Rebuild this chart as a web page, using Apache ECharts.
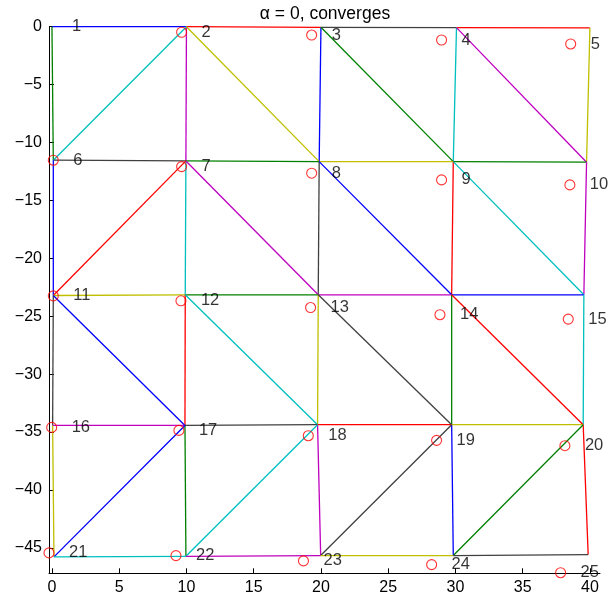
<!DOCTYPE html>
<html>
<head>
<meta charset="utf-8">
<script src="https://cdn.jsdelivr.net/npm/echarts@6/dist/echarts.min.js"></script>
<style>
  html, body { margin: 0; padding: 0; background: #fff; }
  #chart { width: 608px; height: 598px; }
</style>
</head>
<body>
<div id="chart"></div>
<script>
// ---- data ----
const titleText = 'α = 0, converges';
const xTicks = [0, 5, 10, 15, 20, 25, 30, 35, 40];
const yTicks = [0, -5, -10, -15, -20, -25, -30, -35, -40, -45];
const xRange = [-0.22, 40.75];
const yRange = [-47.2, 0];

// mesh node positions (deformed mesh)
const nodeX = [0, 10, 20, 30.08, 40.0,
               0.1, 9.96, 19.87, 29.84, 39.75,
               0.1, 9.91, 19.8, 29.72, 39.55,
               0.05, 9.89, 19.75, 29.72, 39.5,
               0.15, 9.96, 19.98, 29.84, 39.87];
const nodeY = [0, 0, -0.05, -0.08, -0.1,
               -11.53, -11.59, -11.65, -11.65, -11.7,
               -23.21, -23.15, -23.15, -23.15, -23.15,
               -34.43, -34.43, -34.37, -34.37, -34.37,
               -45.78, -45.73, -45.67, -45.67, -45.58];

// red circle positions (node 1's circle lies just outside the axes)
const circleX = [0, 9.64, 19.31, 28.97, 38.57,
                 0.1, 9.64, 19.31, 28.97, 38.51,
                 0.1, 9.59, 19.23, 28.85, 38.39,
                 -0.02, 9.44, 19.06, 28.6, 38.14,
                 -0.22, 9.22, 18.7, 28.23, 37.82];
const circleY = [0.05, -0.48, -0.72, -1.15, -1.49,
                 -11.53, -12.08, -12.65, -13.23, -13.66,
                 -23.24, -23.67, -24.25, -24.87, -25.25,
                 -34.6, -34.86, -35.32, -35.72, -36.18,
                 -45.44, -45.67, -46.13, -46.45, -47.15];
const nodeLabels = ['1','2','3','4','5','6','7','8','9','10','11','12','13',
                    '14','15','16','17','18','19','20','21','22','23','24','25'];

// mesh edges (1-based node numbers) and their MATLAB colour letters
const edgeFrom = [1,2,3,4, 1,2,3,4,5, 2,2,3,4,
                  6,7,8,9, 6,7,8,9,10, 7,7,8,9,
                  11,12,13,14, 11,12,13,14,15, 11,12,13,14,
                  16,17,18,19, 16,17,18,19,20, 17,18,19,20,
                  21,22,23,24];
const edgeTo   = [2,3,4,5, 6,7,8,9,10, 6,8,9,10,
                  7,8,9,10, 11,12,13,14,15, 11,13,14,15,
                  12,13,14,15, 16,17,18,19,20, 17,18,19,20,
                  17,18,19,20, 21,22,23,24,25, 21,22,23,24,
                  22,23,24,25];
const edgeColor = ['b','r','k','r', 'g','m','b','c','y', 'c','y','g','m',
                   'k','g','y','g', 'b','c','k','r','m', 'r','m','b','c',
                   'y','g','m','b', 'k','r','y','g','c', 'b','c','k','r',
                   'm','k','r','y', 'y','g','m','b','r', 'b','c','k','g',
                   'c','m','y','k'];

// ---- styles ----
const palette = {
  b: '#0000ff', g: '#008000', r: '#ff0000', c: '#00bfbf',
  m: '#bf00bf', y: '#bfbf00', k: '#404040'
};
const FONT = 'Liberation Sans, Arial, Helvetica, sans-serif';

const chart = echarts.init(document.getElementById('chart'), null, { renderer: 'canvas' });

const series = [];
for (let i = 0; i < edgeFrom.length; i++) {
  const a = edgeFrom[i] - 1, b = edgeTo[i] - 1;
  series.push({
    type: 'line',
    data: [[nodeX[a], nodeY[a]], [nodeX[b], nodeY[b]]],
    showSymbol: false,
    symbol: 'none',
    silent: true,
    animation: false,
    clip: false,
    lineStyle: { color: palette[edgeColor[i]], width: 1.3 },
    z: 2
  });
}
series.push({
  type: 'scatter',
  data: circleX.map((x, i) => [x, circleY[i]]),
  symbol: 'circle',
  symbolSize: 10,
  itemStyle: { color: 'rgba(255,255,255,0)', borderColor: '#ff0000', borderWidth: 1.1 },
  clip: true,
  silent: true,
  animation: false,
  z: 3
});
series.push({
  type: 'scatter',
  data: circleX.map((x, i) => ({ value: [x, circleY[i]], name: nodeLabels[i] })),
  symbolSize: 1,
  itemStyle: { color: 'rgba(0,0,0,0)' },
  clip: false,
  silent: true,
  animation: false,
  label: {
    show: true,
    position: 'inside',
    align: 'left',
    verticalAlign: 'middle',
    offset: [20, 0],
    formatter: p => p.name,
    color: '#000',
    fontSize: 16.5,
    fontFamily: FONT
  },
  z: 4
});

const option = {
  backgroundColor: '#fff',
  animation: false,
  title: {
    text: titleText,
    left: 320,
    top: 0,
    textAlign: 'center',
    textStyle: { fontSize: 17.5, fontWeight: 'normal', color: '#000', fontFamily: FONT }
  },
  grid: { left: 49, right: 8, top: 26.7, bottom: 24.7, containLabel: false },
  xAxis: {
    type: 'value',
    min: xRange[0],
    max: xRange[1],
    axisLine: { show: true, onZero: false, lineStyle: { color: '#000', width: 1 } },
    axisTick: { show: true, inside: true, length: 5, customValues: xTicks, lineStyle: { color: '#000' } },
    axisLabel: { show: true, customValues: xTicks, fontSize: 16, color: '#000', margin: 6, fontFamily: FONT },
    splitLine: { show: false }
  },
  yAxis: {
    type: 'value',
    min: yRange[0],
    max: yRange[1],
    axisLine: { show: true, onZero: false, lineStyle: { color: '#000', width: 1 } },
    axisTick: { show: true, inside: true, length: 5, customValues: yTicks, lineStyle: { color: '#000' } },
    axisLabel: {
      show: true, customValues: yTicks, fontSize: 16, color: '#000', margin: 7, fontFamily: FONT,
      formatter: v => (v < 0 ? '\u2212' + Math.abs(v) : String(v))
    },
    splitLine: { show: false }
  },
  series: series
};
chart.setOption(option);
</script>
</body>
</html>
